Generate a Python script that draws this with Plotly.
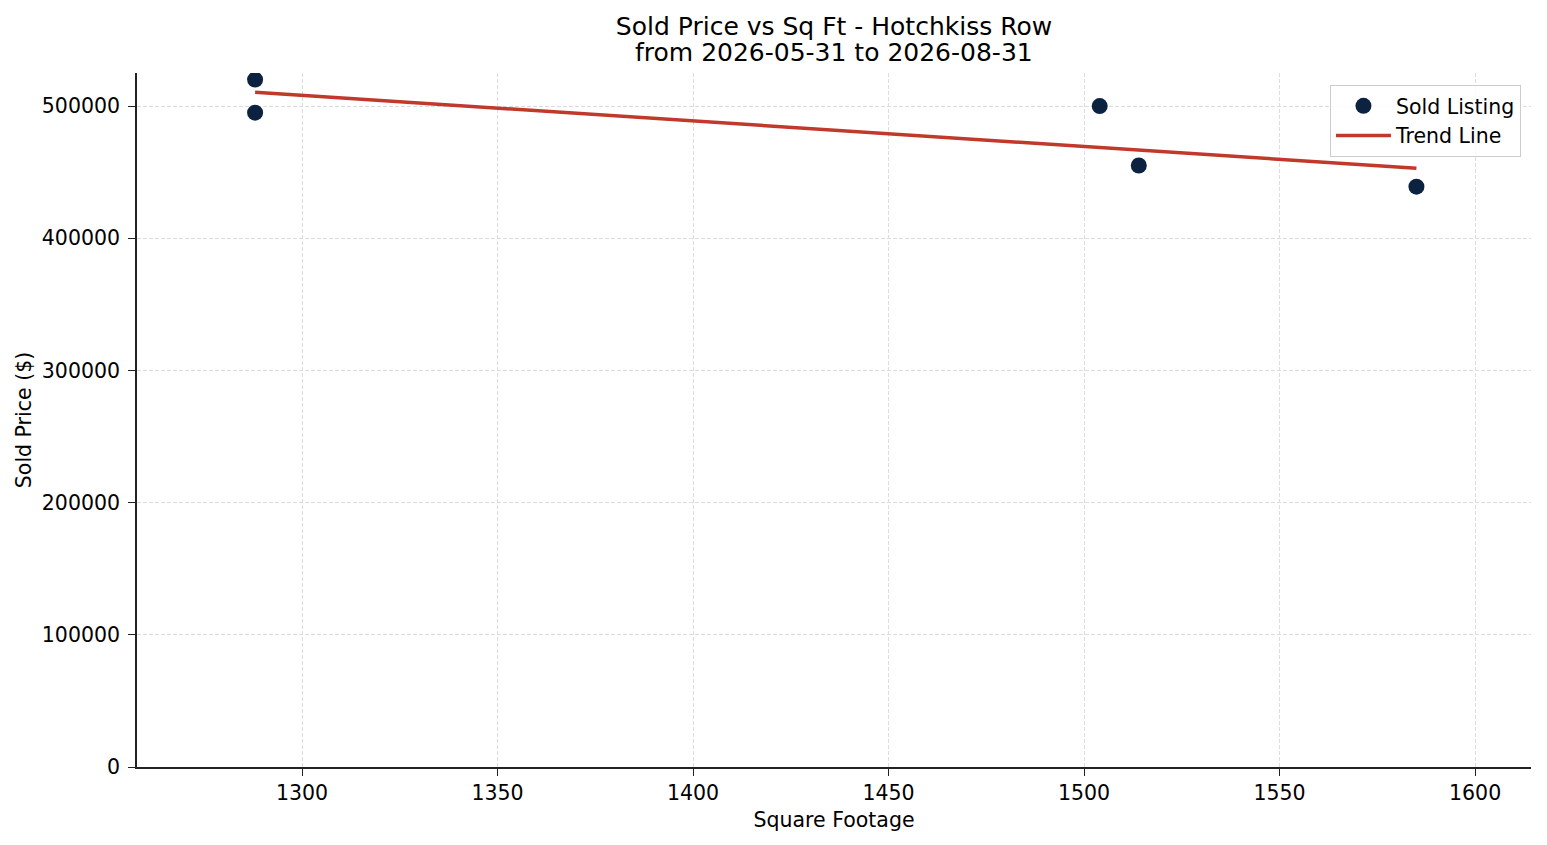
import numpy as np
import plotly.graph_objects as go

# values
sq_ft = [1288, 1288, 1504, 1514, 1585]
sold_price = [520000, 495000, 500000, 455000, 439000]
x_ticks = [1300, 1350, 1400, 1450, 1500, 1550, 1600]
y_ticks = [0, 100000, 200000, 300000, 400000, 500000]

title_line = 'Sold Price vs Sq Ft - Hotchkiss Row'
subtitle_line = 'from 2026-05-31 to 2026-08-31'

# least squares trend line over the sold listings
slope, intercept = np.polyfit(sq_ft, sold_price, 1)
trend_x = [min(sq_ft), max(sq_ft)]
trend_y = [slope * v + intercept for v in trend_x]

FONT = 'DejaVu Sans'
# the page body adds an 8px margin, so the figure is a bit smaller than the window
W, H = 1531, 829
M = {'l': 129, 'r': 8, 't': 65, 'b': 70}
plot_h = H - M['t'] - M['b']

fig = go.Figure()
fig.add_scatter(
    x=sq_ft,
    y=sold_price,
    mode='markers',
    name='Sold Listing',
    marker={'size': 16, 'color': '#0b2341', 'line': {'width': 0}},
)
fig.add_scatter(
    x=trend_x,
    y=trend_y,
    mode='lines',
    name='Trend Line',
    line={'width': 3.5, 'color': '#c0392b'},
)

axis_common = dict(
    showline=True,
    linecolor='#222222',
    linewidth=1.6,
    ticks='outside',
    ticklen=7,
    tickwidth=1.4,
    tickcolor='#222222',
    showgrid=True,
    gridcolor='#dcdcdc',
    griddash='4px,2px',
    gridwidth=0.8,
    zeroline=False,
    tickfont={'family': FONT, 'size': 20.5, 'color': '#000000'},
    mirror=False,
)

fig.update_layout(
    width=W,
    height=H,
    margin=M,
    plot_bgcolor='white',
    paper_bgcolor='white',
    font={'family': FONT, 'size': 20.5, 'color': '#000000'},
    title={
        'text': title_line,
        'x': 0.5,
        'xref': 'paper',
        'xanchor': 'center',
        'y': 1 - 18 / H,
        'yref': 'container',
        'yanchor': 'middle',
        'font': {'family': FONT, 'size': 25, 'color': '#000000'},
    },
    xaxis=dict(
        axis_common,
        range=[1257.8, 1614.3],
        tickvals=x_ticks,
        ticktext=[str(v) for v in x_ticks],
        title={'text': 'Square Footage', 'standoff': 8, 'font': {'family': FONT, 'size': 20.5}},
    ),
    yaxis=dict(
        axis_common,
        range=[0, 525000],
        tickvals=y_ticks,
        ticktext=[str(v) for v in y_ticks],
        ticklabelstandoff=4,
        title={'text': 'Sold Price ($)', 'standoff': 5, 'font': {'family': FONT, 'size': 20.5}},
    ),
    legend={
        'x': 0.9928,
        'y': 0.9827,
        'xanchor': 'right',
        'yanchor': 'top',
        'bgcolor': 'rgba(255,255,255,0.85)',
        'bordercolor': '#cccccc',
        'borderwidth': 1,
        'itemwidth': 55,
        'font': {'family': FONT, 'size': 20.5},
    },
    showlegend=True,
)

fig.add_annotation(
    text=subtitle_line,
    xref='paper',
    yref='paper',
    x=0.5,
    y=1 + (M['t'] - 45) / plot_h,
    xanchor='center',
    yanchor='middle',
    showarrow=False,
    font={'family': FONT, 'size': 25, 'color': '#000000'},
)

fig.write_html('out.html')
